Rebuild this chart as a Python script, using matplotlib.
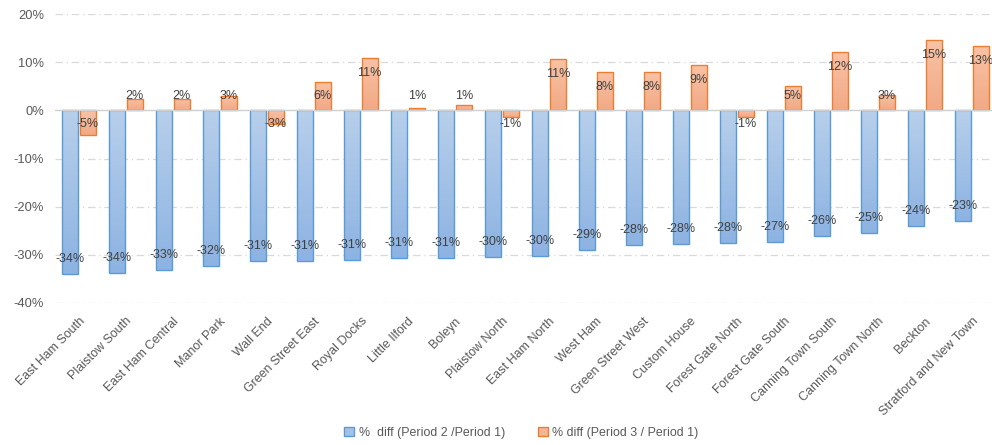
import matplotlib.pyplot as plt
import numpy as np
from matplotlib.colors import LinearSegmentedColormap
from matplotlib.patches import Patch

plt.rcParams["font.family"] = ["Liberation Sans", "DejaVu Sans"]

wards = [
    "East Ham South", "Plaistow South", "East Ham Central", "Manor Park",
    "Wall End", "Green Street East", "Royal Docks", "Little Ilford", "Boleyn",
    "Plaistow North", "East Ham North", "West Ham", "Green Street West",
    "Custom House", "Forest Gate North", "Forest Gate South",
    "Canning Town South", "Canning Town North", "Beckton",
    "Stratford and New Town",
]

period2_diff = [-34.0, -33.8, -33.3, -32.3, -31.4, -31.4, -31.1, -30.7, -30.7,
                -30.4, -30.3, -29.0, -28.0, -27.8, -27.6, -27.3, -26.2, -25.4,
                -24.0, -23.0]
period3_diff = [-5.1, 2.4, 2.4, 2.9, -2.8, 5.9, 10.95, 0.6, 1.2, -1.4, 10.6,
                7.96, 8.0, 9.4, -1.4, 5.0, 12.1, 3.3, 14.7, 13.4]

series_labels = ["%  diff (Period 2 /Period 1)", "% diff (Period 3 / Period 1)"]

blue_edge = "#5b9bd5"
orange_edge = "#ed7d31"
blue_cmap = LinearSegmentedColormap.from_list("b", ["#b7cfeb", "#8db3e2"])
orange_cmap = LinearSegmentedColormap.from_list("o", ["#f8c3a6", "#f2a985"])
text_col = "#404040"
tick_col = "#595959"

n = len(wards)
x = np.arange(n)
width = 0.34
shift = 0.19

fig = plt.figure(figsize=(9.92, 4.45), dpi=100)
ax = fig.add_axes([55.2 / 992, 1 - 302.7 / 445, (995.5 - 55.2) / 992, (302.7 - 14.3) / 445])
ax.set_xlim(-0.5, n - 0.5)
ax.set_ylim(-40, 20)


def gradient_bars(xs, vals, cmap, edge):
    bars = ax.bar(xs, vals, width, facecolor="none", edgecolor=edge,
                  linewidth=1.0, zorder=3)
    grad = np.linspace(0, 1, 64).reshape(-1, 1)
    for b in bars:
        x0 = b.get_x()
        y0, y1 = sorted([b.get_y(), b.get_y() + b.get_height()])
        im = ax.imshow(grad, cmap=cmap, aspect="auto",
                       extent=(x0, x0 + b.get_width(), y0, y1),
                       origin="upper", zorder=2)
        im.set_clip_path(b)
    return bars


gradient_bars(x - shift, period2_diff, blue_cmap, blue_edge)
gradient_bars(x + shift, period3_diff, orange_cmap, orange_edge)

# value labels just inside the bar end, pushed clear of the zero line for short bars
px_per_unit = (302.7 - 14.3) / 60.0
for xs, vals in ((x - shift, period2_diff), (x + shift, period3_diff)):
    for xi, v in zip(xs, vals):
        sign = 1 if v >= 0 else -1
        depth = abs(v) * px_per_unit
        off = depth - 15 if depth - 15 > 14 else 14
        ax.annotate(f"{v:.0f}%", xy=(xi, 0), xytext=(0, sign * off),
                    textcoords="offset pixels", ha="center", va="center",
                    fontsize=9.0, color=text_col, zorder=5)

# gridlines
for yv in [20, 10, -10, -20, -30, -40]:
    ax.axhline(yv, color="#d9d9d9", linewidth=0.9, linestyle=(0, (6, 3, 1, 3)),
               zorder=1)
ax.axhline(0, color="#d0d0d0", linewidth=1.0, zorder=4)

ax.set_yticks([20, 10, 0, -10, -20, -30, -40])
ax.set_yticklabels([f"{t}%" for t in [20, 10, 0, -10, -20, -30, -40]])
ax.tick_params(axis="y", length=0, pad=8, labelsize=9.3, labelcolor=tick_col)
ax.set_xticks(x)
ax.set_xticklabels(wards, rotation=45, ha="right", rotation_mode="anchor")
ax.tick_params(axis="x", length=0, pad=9, labelsize=9.0, labelcolor=tick_col)
for s in ax.spines.values():
    s.set_visible(False)

handles = [
    Patch(facecolor="#a4c2e8", edgecolor=blue_edge, linewidth=1.0),
    Patch(facecolor="#f5b696", edgecolor=orange_edge, linewidth=1.0),
]
fig.legend(handles, series_labels, loc="center", bbox_to_anchor=(521.5 / 992, 1 - 433 / 445),
           ncol=2, frameon=False, fontsize=8.9, labelcolor=tick_col,
           handlelength=0.8, handleheight=0.8, handletextpad=0.35, columnspacing=2.7)

fig.savefig("out.png", dpi=100)
